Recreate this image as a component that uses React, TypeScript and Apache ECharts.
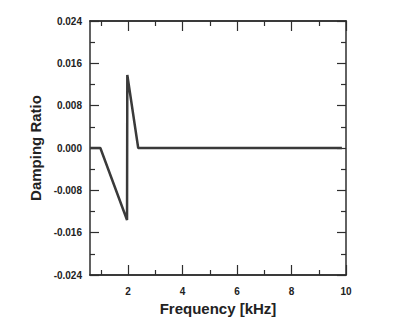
import React, { useEffect, useRef } from "react";
import * as echarts from "echarts";

const freqKHz = [0.6, 0.98, 1.96, 1.97, 2.37, 9.85];
const damping = [0, 0, -0.0136, 0.0138, 0, 0];
const xMajorTicks = [2, 4, 6, 8, 10];
const xMinorTicks = [1, 3, 5, 7, 9];
const yMin = -0.024;
const yMax = 0.024;
const yStep = 0.008;

const FONT = "'Liberation Sans', Arial, sans-serif";
const AX = "#2e2e2e";

export default function App() {
  const ref = useRef<HTMLDivElement>(null);
  useEffect(() => {
    if (!ref.current) return;
    const chart = echarts.init(ref.current, null, { renderer: "svg" });
    const lineStyle = { color: AX, width: 1.5 };
    const xBase = (pos: "bottom" | "top", ticks: number[], len: number, labels: boolean, name?: string) => ({
      type: "value",
      position: pos,
      min: 0.6,
      max: 10,
      axisLine: { show: true, onZero: false, lineStyle },
      splitLine: { show: false },
      axisTick: { show: true, inside: true, length: len, customValues: ticks, lineStyle: { color: AX, width: 1.2 } },
      axisLabel: labels
        ? { show: true, customValues: ticks, margin: 11, color: "#222", fontFamily: FONT, fontWeight: "bold", fontSize: 10 }
        : { show: false },
      name: name,
      nameLocation: "middle",
      nameGap: 25,
      nameTextStyle: { color: "#222", fontFamily: FONT, fontWeight: "bold", fontSize: 15 },
    });
    const yBase = (pos: "left" | "right", labels: boolean, name?: string) => ({
      type: "value",
      position: pos,
      min: yMin,
      max: yMax,
      interval: yStep,
      axisLine: { show: true, onZero: false, lineStyle },
      splitLine: { show: false },
      axisTick: { show: true, inside: true, length: 9, lineStyle: { color: AX, width: 1.2 } },
      minorTick: { show: true, splitNumber: 2, length: 5, lineStyle: { color: AX, width: 1.2 } },
      minorSplitLine: { show: false },
      axisLabel: labels
        ? {
            show: true,
            margin: 8,
            color: "#222",
            fontFamily: FONT,
            fontWeight: "bold",
            fontSize: 10,
            formatter: (v: number) => (Math.abs(v) < 1e-9 ? "0.000" : v.toFixed(3)),
          }
        : { show: false },
      name: name,
      nameLocation: "middle",
      nameGap: 46,
      nameTextStyle: { color: "#222", fontFamily: FONT, fontWeight: "bold", fontSize: 15 },
    });
    chart.setOption({
      animation: false,
      backgroundColor: "#ffffff",
      grid: { left: 90, right: 65, top: 21, bottom: 50, containLabel: false },
      xAxis: [
        xBase("bottom", xMajorTicks, 10, true, "Frequency [kHz]"),
        xBase("bottom", xMinorTicks, 5, false),
        xBase("top", xMajorTicks, 10, false),
        xBase("top", xMinorTicks, 5, false),
      ],
      yAxis: [yBase("left", true, "Damping Ratio"), yBase("right", false)],
      series: [
        {
          type: "line",
          xAxisIndex: 0,
          yAxisIndex: 0,
          data: freqKHz.map((f, i) => [f, damping[i]]),
          showSymbol: false,
          lineStyle: { color: "#3a3a3a", width: 2.5 },
        },
      ],
    });
    return () => chart.dispose();
  }, []);
  return <div ref={ref} style={{ position: "fixed", left: 0, top: 0, width: 411, height: 325 }} />;
}
